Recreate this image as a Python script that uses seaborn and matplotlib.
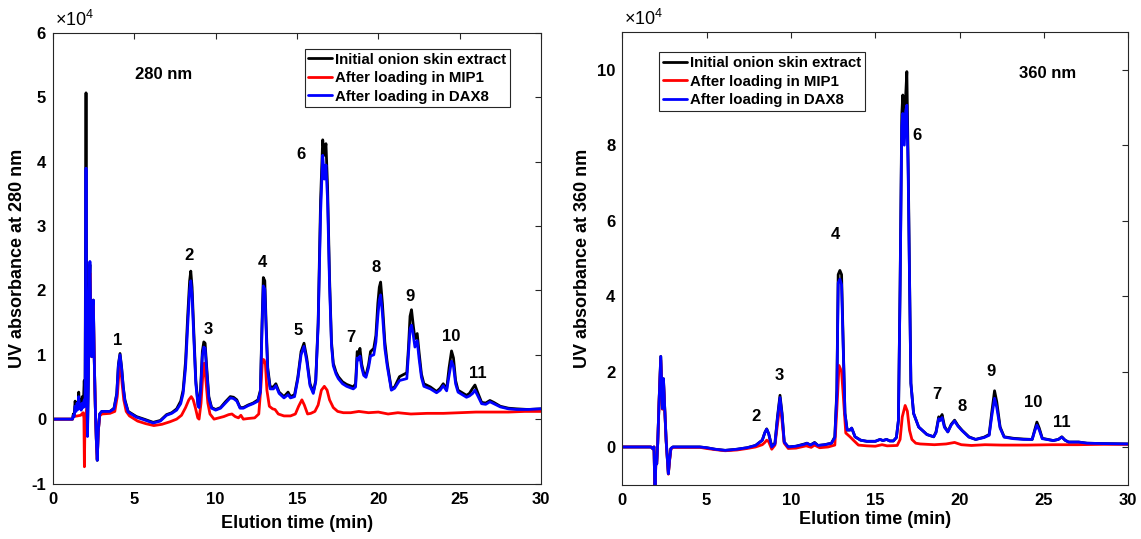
import numpy as np
import pandas as pd
import matplotlib
matplotlib.use("Agg")
import matplotlib.pyplot as plt
import seaborn as sns

# ---------------- data (absorbance in units of 1e4) ----------------
series_names = ["Initial onion skin extract", "After loading in MIP1", "After loading in DAX8"]
series_colors = ["#000000", "#ff0000", "#0000ff"]

# 280 nm panel: black (initial) and blue (DAX8) share a time grid
L_t = [0.0, 1.20, 1.25, 1.30, 1.36, 1.42, 1.48, 1.54, 1.58, 1.63, 1.68, 1.73, 1.80, 1.86, 1.92, 1.97,
       2.03, 2.08, 2.12, 2.17, 2.22, 2.27, 2.32, 2.38, 2.43, 2.48, 2.53, 2.60, 2.66, 2.72, 2.78, 2.87,
       3.00, 3.50, 3.75, 3.92, 4.02, 4.12, 4.22, 4.32, 4.42, 4.62, 5.13, 5.60, 6.16, 6.60, 6.98, 7.30,
       7.60, 7.85, 8.00, 8.15, 8.28, 8.40, 8.47, 8.55, 8.65, 8.78, 8.92, 8.98, 9.08, 9.18, 9.27, 9.35,
       9.45, 9.58, 9.75, 10.00, 10.30, 10.60, 10.90, 11.10, 11.30, 11.50, 11.70, 12.00, 12.30, 12.60,
       12.75, 12.85, 12.93, 13.02, 13.10, 13.20, 13.35, 13.55, 13.70, 13.90, 14.20, 14.45, 14.60, 14.85,
       15.05, 15.25, 15.43, 15.60, 15.80, 16.00, 16.15, 16.30, 16.45, 16.58, 16.68, 16.78, 16.88, 17.00,
       17.12, 17.23, 17.40, 17.54, 17.80, 18.05, 18.46, 18.60, 18.70, 18.78, 18.87, 18.98, 19.10, 19.24,
       19.40, 19.52, 19.72, 19.85, 19.97, 20.06, 20.14, 20.25, 20.40, 20.55, 20.80, 21.00, 21.30, 21.60,
       21.75, 21.85, 21.95, 22.04, 22.15, 22.25, 22.39, 22.50, 22.65, 22.80, 23.20, 23.58, 23.80, 23.99,
       24.20, 24.35, 24.50, 24.62, 24.75, 24.90, 25.42, 25.60, 25.80, 25.94, 26.10, 26.35, 26.60, 26.86,
       27.10, 27.50, 28.00, 28.50, 29.20, 30.00]
L_black = [0.00, 0.00, 0.08, 0.05, 0.28, 0.15, 0.22, 0.18, 0.42, 0.20, 0.30, 0.15, 0.35, 0.20, 0.60, 0.25,
           5.07, 0.50, -0.20, 0.60, 2.00, 2.40, 1.60, 0.97, 1.80, 1.85, 1.00, 0.20, -0.30, -0.64, -0.20, 0.08,
           0.12, 0.12, 0.17, 0.40, 0.85, 1.02, 0.80, 0.50, 0.30, 0.12, 0.04, 0.00, -0.05, -0.02, 0.07, 0.10,
           0.16, 0.28, 0.45, 0.90, 1.60, 2.15, 2.30, 2.05, 1.40, 0.60, 0.22, 0.20, 0.50, 1.05, 1.20, 1.18,
           0.80, 0.35, 0.18, 0.15, 0.18, 0.27, 0.35, 0.34, 0.30, 0.18, 0.18, 0.22, 0.25, 0.30,
           0.45, 1.50, 2.20, 2.15, 1.50, 0.80, 0.50, 0.50, 0.55, 0.42, 0.35, 0.42, 0.35, 0.38,
           0.65, 1.05, 1.18, 0.95, 0.55, 0.42, 0.60, 1.50, 3.40, 4.34, 4.10, 4.28, 3.60, 2.20,
           1.20, 0.87, 0.73, 0.66, 0.58, 0.54, 0.50, 0.55, 1.05, 1.00, 1.10, 0.85, 0.72, 0.68,
           0.85, 1.05, 1.10, 1.30, 1.80, 2.05, 2.13, 1.80, 1.20, 0.87, 0.47, 0.50, 0.66, 0.70,
           0.72, 1.10, 1.60, 1.70, 1.45, 1.25, 1.33, 1.05, 0.70, 0.55, 0.50, 0.43, 0.48, 0.55,
           0.47, 0.80, 1.06, 0.95, 0.60, 0.45, 0.37, 0.40, 0.48, 0.53, 0.42, 0.26, 0.25, 0.29,
           0.26, 0.20, 0.17, 0.16, 0.15, 0.16]
L_blue = [0.00, 0.00, 0.06, 0.04, 0.20, 0.12, 0.25, 0.15, 0.35, 0.18, 0.22, 0.14, 0.25, 0.18, 0.30, 0.20,
          3.90, 0.40, -0.27, 0.50, 1.90, 2.45, 1.55, 0.97, 1.75, 1.85, 1.00, 0.20, -0.30, -0.64, -0.20, 0.08,
          0.12, 0.12, 0.16, 0.38, 0.83, 1.00, 0.78, 0.48, 0.28, 0.11, 0.03, -0.01, -0.06, -0.03, 0.06, 0.09,
          0.14, 0.24, 0.40, 0.80, 1.45, 2.00, 2.15, 1.92, 1.30, 0.55, 0.20, 0.18, 0.45, 0.98, 1.12, 1.10,
          0.74, 0.32, 0.17, 0.14, 0.17, 0.25, 0.33, 0.32, 0.28, 0.17, 0.17, 0.21, 0.24, 0.28,
          0.42, 1.40, 2.07, 2.02, 1.40, 0.75, 0.47, 0.47, 0.52, 0.40, 0.33, 0.38, 0.33, 0.35,
          0.62, 1.00, 1.13, 0.90, 0.52, 0.40, 0.58, 1.45, 3.20, 4.10, 3.73, 3.95, 3.40, 2.10,
          1.15, 0.83, 0.70, 0.63, 0.55, 0.51, 0.47, 0.50, 0.95, 0.92, 0.98, 0.80, 0.68, 0.65,
          0.80, 0.98, 1.00, 1.20, 1.60, 1.85, 1.93, 1.65, 1.10, 0.82, 0.45, 0.48, 0.60, 0.62,
          0.63, 1.00, 1.40, 1.46, 1.30, 1.12, 1.22, 0.95, 0.65, 0.51, 0.47, 0.41, 0.45, 0.52,
          0.44, 0.68, 0.90, 0.82, 0.55, 0.42, 0.34, 0.36, 0.40, 0.45, 0.37, 0.24, 0.23, 0.27,
          0.24, 0.19, 0.16, 0.15, 0.15, 0.16]
L_red_t = [0.00, 1.20, 1.25, 1.50, 1.70, 1.85, 1.90, 1.93, 1.97, 2.03, 2.10, 2.18, 2.27, 2.33, 2.38, 2.43,
           2.48, 2.53, 2.60, 2.66, 2.72, 2.78, 2.87, 3.00, 3.50, 3.80, 3.95, 4.05, 4.15, 4.25, 4.35, 4.50,
           4.70, 5.20, 5.70, 6.20, 6.70, 7.20, 7.60, 7.90, 8.15, 8.35, 8.50, 8.62, 8.75, 8.90, 8.98, 9.10,
           9.20, 9.30, 9.40, 9.52, 9.65, 9.90, 10.20, 10.50, 10.80, 11.00, 11.20, 11.40, 11.55, 11.70,
           12.00, 12.40, 12.65, 12.78, 12.88, 12.98, 13.06, 13.15, 13.30, 13.50, 13.65, 13.85, 14.20,
           14.60, 14.90, 15.10, 15.30, 15.45, 15.65, 15.85, 16.10, 16.30, 16.50, 16.68, 16.85, 17.00,
           17.23, 17.50, 17.85, 18.30, 18.80, 19.40, 20.00, 20.60, 21.20, 22.00, 23.00, 24.00, 25.00,
           26.00, 27.00, 28.00, 29.00, 30.00]
L_red = [0.00, 0.00, 0.04, 0.05, 0.06, 0.10, 0.02, -0.74, 0.05, 0.10, 0.20, 1.50, 2.27, 1.50, 0.97, 1.70,
         1.80, 1.00, 0.20, -0.30, -0.62, -0.20, 0.05, 0.08, 0.09, 0.12, 0.35, 0.70, 0.83, 0.55, 0.30, 0.12,
         0.05, -0.03, -0.07, -0.10, -0.08, -0.04, 0.00, 0.06, 0.18, 0.30, 0.35, 0.30, 0.18, 0.02, 0.00, 0.25,
         0.65, 0.87, 0.60, 0.25, 0.08, 0.00, 0.02, 0.04, 0.07, 0.08, 0.04, 0.02, 0.06, 0.00,
         0.01, 0.02, 0.08, 0.50, 0.93, 0.92, 0.85, 0.45, 0.20, 0.16, 0.15, 0.08, 0.05,
         0.05, 0.08, 0.20, 0.30, 0.22, 0.08, 0.09, 0.12, 0.22, 0.45, 0.51, 0.45, 0.30,
         0.18, 0.12, 0.10, 0.10, 0.12, 0.10, 0.11, 0.08, 0.10, 0.08, 0.09, 0.09, 0.10,
         0.11, 0.11, 0.11, 0.12, 0.12]

# 360 nm panel
R_t = [0.00, 1.70, 1.82, 1.88, 1.94, 1.99, 2.04, 2.10, 2.18, 2.28, 2.38, 2.44, 2.52, 2.60, 2.73, 2.80,
       2.88, 3.00, 4.60, 5.00, 5.50, 6.10, 6.80, 7.40, 7.90, 8.30, 8.45, 8.56, 8.68, 8.86, 9.05, 9.20,
       9.35, 9.47, 9.60, 9.84, 10.30, 10.80, 10.95, 11.15, 11.40, 11.60, 12.00, 12.40, 12.60, 12.72,
       12.80, 12.90, 13.00, 13.10, 13.20, 13.33, 13.50, 13.60, 13.80, 14.13, 14.50, 15.00, 15.28, 15.45,
       15.67, 15.85, 16.07, 16.25, 16.37, 16.47, 16.57, 16.63, 16.72, 16.80, 16.87, 16.95, 17.03, 17.11,
       17.27, 17.57, 18.06, 18.46, 18.60, 18.76, 18.85, 18.96, 19.10, 19.30, 19.50, 19.70, 19.90, 20.15,
       20.55, 20.95, 21.45, 21.75, 21.90, 22.07, 22.20, 22.40, 22.64, 23.19, 23.80, 24.30, 24.45, 24.58,
       24.72, 24.90, 25.55, 25.85, 26.06, 26.25, 26.46, 27.06, 27.55, 28.50, 30.00]
R_black = [0.00, 0.00, -0.05, 0.00, -1.40, -0.30, -0.45, 0.10, 1.20, 2.40, 1.02, 1.81, 0.98, 0.17, -0.71, -0.35,
           -0.04, 0.00, 0.00, -0.02, -0.06, -0.09, -0.06, -0.02, 0.04, 0.18, 0.38, 0.48, 0.35, 0.02, 0.10, 0.80,
           1.37, 0.90, 0.13, 0.00, 0.02, 0.08, 0.10, 0.05, 0.12, 0.04, 0.06, 0.10, 0.27, 1.50,
           4.57, 4.68, 4.57, 2.70, 0.90, 0.45, 0.45, 0.50, 0.27, 0.18, 0.15, 0.15, 0.20, 0.17,
           0.20, 0.16, 0.16, 0.25, 0.70, 4.30, 8.80, 9.33, 8.20, 9.30, 9.95, 7.50, 4.50, 1.69,
           0.89, 0.53, 0.33, 0.27, 0.40, 0.80, 0.75, 0.86, 0.55, 0.40, 0.60, 0.71, 0.57, 0.44,
           0.27, 0.20, 0.26, 0.33, 0.90, 1.49, 1.20, 0.53, 0.27, 0.23, 0.21, 0.20, 0.45, 0.66,
           0.50, 0.23, 0.17, 0.20, 0.27, 0.18, 0.13, 0.13, 0.10, 0.09, 0.08]
R_blue = [0.00, 0.00, -0.05, 0.00, -1.40, -0.30, -0.45, 0.10, 1.20, 2.40, 1.02, 1.81, 0.98, 0.17, -0.71, -0.35,
          -0.04, 0.00, 0.00, -0.02, -0.06, -0.09, -0.06, -0.02, 0.04, 0.18, 0.38, 0.47, 0.35, 0.00, 0.08, 0.75,
          1.31, 0.85, 0.13, 0.00, 0.02, 0.07, 0.10, 0.05, 0.11, 0.04, 0.06, 0.10, 0.25, 1.40,
          4.35, 4.45, 4.30, 2.60, 0.88, 0.45, 0.45, 0.50, 0.27, 0.18, 0.15, 0.15, 0.20, 0.17,
          0.20, 0.16, 0.16, 0.25, 0.70, 4.20, 8.50, 8.84, 8.00, 8.90, 9.06, 7.20, 4.40, 1.69,
          0.89, 0.53, 0.33, 0.27, 0.38, 0.75, 0.70, 0.78, 0.52, 0.40, 0.58, 0.69, 0.55, 0.43,
          0.26, 0.20, 0.25, 0.31, 0.80, 1.29, 1.05, 0.50, 0.26, 0.22, 0.20, 0.20, 0.42, 0.58,
          0.45, 0.22, 0.17, 0.20, 0.26, 0.18, 0.13, 0.13, 0.10, 0.09, 0.08]
R_red_t = [0.00, 1.70, 1.82, 1.88, 1.94, 1.99, 2.04, 2.10, 2.18, 2.28, 2.38, 2.44, 2.52, 2.60, 2.73, 2.80,
           2.88, 3.00, 4.60, 5.00, 5.50, 6.10, 6.80, 7.40, 7.90, 8.30, 8.45, 8.56, 8.68, 8.86, 9.05, 9.20,
           9.35, 9.47, 9.60, 9.84, 10.30, 10.90, 11.20, 11.40, 11.70, 12.20, 12.60, 12.72, 12.85, 13.00,
           13.10, 13.25, 13.50, 13.70, 14.00, 14.50, 15.00, 15.40, 15.70, 16.30, 16.47, 16.60, 16.77,
           16.90, 17.03, 17.17, 17.40, 17.66, 18.50, 19.20, 19.70, 20.10, 20.70, 21.50, 22.50, 24.00,
           25.50, 27.00, 28.50, 30.00]
R_red = [0.00, 0.00, -0.05, 0.00, -1.40, -0.30, -0.45, 0.10, 1.20, 2.30, 1.00, 1.75, 0.95, 0.15, -0.72, -0.38,
         -0.06, -0.01, -0.01, -0.04, -0.07, -0.10, -0.08, -0.04, 0.00, 0.06, 0.12, 0.18, 0.14, -0.06, 0.05, 0.60,
         1.13, 0.70, 0.10, -0.04, -0.03, 0.03, -0.01, 0.05, -0.02, 0.00, 0.05, 1.00, 2.16, 2.00,
         1.37, 0.37, 0.27, 0.18, 0.05, 0.03, 0.02, 0.06, 0.03, 0.04, 0.20, 0.80, 1.10,
         0.95, 0.44, 0.20, 0.10, 0.08, 0.06, 0.08, 0.12, 0.06, 0.04, 0.06, 0.05, 0.05,
         0.06, 0.06, 0.07, 0.07]

# peak labels
L_lab = ["1", "2", "3", "4", "5", "6", "7", "8", "9", "10", "11"]
L_lab_t = [3.95, 8.37, 9.53, 12.86, 15.09, 15.22, 18.30, 19.87, 21.92, 24.46, 26.10]
L_lab_y = [1.22, 2.54, 1.39, 2.44, 1.37, 4.11, 1.27, 2.36, 1.91, 1.29, 0.71]
R_lab = ["2", "3", "4", "6", "7", "8", "9", "10", "11"]
R_lab_t = [7.94, 9.33, 12.65, 17.46, 18.67, 20.17, 21.87, 24.39, 26.06]
R_lab_y = [0.82, 1.90, 5.63, 8.26, 1.40, 1.07, 2.00, 1.19, 0.66]

x_ticks = [0, 5, 10, 15, 20, 25, 30]
L_yticks = [-1, 0, 1, 2, 3, 4, 5, 6]
R_yticks = [0, 2, 4, 6, 8, 10]

# ---------------- style ----------------
sns.set_style("white")
dark = "#262626"
plt.rcParams["font.family"] = ["Liberation Sans", "DejaVu Sans"]
plt.rcParams.update({
    "mathtext.fontset": "custom",
    "mathtext.rm": "Liberation Sans",
    "text.color": "black", "axes.labelcolor": "black",
    "xtick.direction": "in", "ytick.direction": "in",
    "xtick.top": True, "ytick.right": True,
    "xtick.major.size": 4, "ytick.major.size": 4,
    "xtick.major.width": 0.8, "ytick.major.width": 0.8,
    "xtick.major.pad": 6, "ytick.major.pad": 5,
    "xtick.color": dark, "ytick.color": dark,
    "axes.edgecolor": dark, "axes.linewidth": 0.8,
})


def make_df(t_bw, yb, yblue, t_red, yred):
    parts = [
        pd.DataFrame({"time": t_bw, "abs": yb, "series": series_names[0]}),
        pd.DataFrame({"time": t_red, "abs": yred, "series": series_names[1]}),
        pd.DataFrame({"time": t_bw, "abs": yblue, "series": series_names[2]}),
    ]
    return pd.concat(parts, ignore_index=True)


fig = plt.figure(figsize=(11.41, 5.39), dpi=100)
axL = fig.add_axes([53 / 1141, 1 - 483.5 / 539, 488 / 1141, 450.5 / 539])
axR = fig.add_axes([622.3 / 1141, 1 - 484.7 / 539, 506 / 1141, 452.7 / 539])

panels = [
    (axL, make_df(L_t, L_black, L_blue, L_red_t, L_red), (-1, 6), L_yticks,
     "UV absorbance at 280 nm", L_lab, L_lab_t, L_lab_y, "280 nm", (6.8, 5.35), 6),
    (axR, make_df(R_t, R_black, R_blue, R_red_t, R_red), (-1, 11), R_yticks,
     "UV absorbance at 360 nm", R_lab, R_lab_t, R_lab_y, "360 nm", (25.2, 9.9), 2),
]

for ax, df, ylim, yt, ylab, labs, lt, ly, wl, wlpos, xlpad in panels:
    sns.lineplot(data=df, x="time", y="abs", hue="series", hue_order=series_names,
                 palette=series_colors, estimator=None, linewidth=2.0, legend=False, ax=ax)
    ax.set_xlim(0, 30)
    ax.set_ylim(*ylim)
    ax.set_xticks(x_ticks)
    ax.set_yticks(yt)
    ax.set_xticklabels([str(v) for v in x_ticks], fontsize=12, fontweight="bold", color="black")
    ax.set_yticklabels([str(v) for v in yt], fontsize=12, fontweight="bold", color="black")
    ax.set_xlabel("Elution time (min)", fontsize=13, fontweight="bold", labelpad=xlpad, color="black")
    ax.set_ylabel(ylab, fontsize=13, fontweight="bold", labelpad=4, color="black")
    for s in ax.spines.values():
        s.set_visible(True)
        s.set_color(dark)
    for lab, x, y in zip(labs, lt, ly):
        ax.text(x, y, lab, fontsize=12, fontweight="bold", ha="center", va="center", color="black")
    ax.text(wlpos[0], wlpos[1], wl, fontsize=12, fontweight="bold", ha="center", va="center",
            color="black")
    ax.text(0.004, 1.006, "×10$^{4}$", transform=ax.transAxes, fontsize=13,
            ha="left", va="bottom", color="black")

legend_kw = dict(frameon=True, fancybox=False, framealpha=1,
                 edgecolor=dark, handlelength=1.6, handletextpad=0.2,
                 labelspacing=0.3, borderpad=0.25, borderaxespad=0)
legend_font = {"weight": "bold", "size": 10.8}
lgL = axL.legend(handles=axL.lines[:3], labels=series_names, loc="upper right",
                 bbox_to_anchor=(0.937, 0.965), prop=legend_font, labelcolor="black", **legend_kw)
lgR = axR.legend(handles=axR.lines[:3], labels=series_names, loc="upper left",
                 bbox_to_anchor=(0.0723, 0.955), prop=legend_font, labelcolor="black", **legend_kw)
for lg in (lgL, lgR):
    lg.get_frame().set_linewidth(0.8)

fig.savefig("out.png", dpi=100)
